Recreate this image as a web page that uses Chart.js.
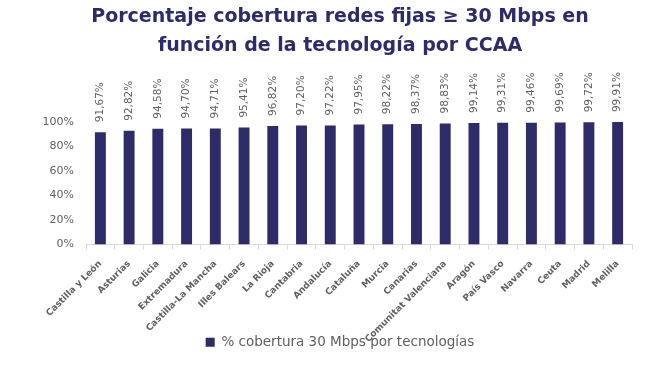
<!DOCTYPE html>
<html><head><meta charset="utf-8">
<script src="https://cdn.jsdelivr.net/npm/chart.js@4/dist/chart.umd.min.js"></script>
<style>html,body{margin:0;padding:0;background:#fff}#wrap{width:664px;height:372px;position:relative}</style>
</head><body><div id="wrap"><canvas id="c" width="664" height="372"></canvas></div>
<script>
const categories = ["Castilla y León","Asturias","Galicia","Extremadura","Castilla-La Mancha","Illes Balears","La Rioja","Cantabria","Andalucía","Cataluña","Murcia","Canarias","Comunitat Valenciana","Aragón","País Vasco","Navarra","Ceuta","Madrid","Melilla"];
const values = [91.67,92.82,94.58,94.70,94.71,95.41,96.82,97.20,97.22,97.95,98.22,98.37,98.83,99.14,99.31,99.46,99.69,99.72,99.91];
const yTicks = [0,20,40,60,80,100];
const seriesName = "% cobertura 30 Mbps por tecnologías";
const titleLines = ["Porcentaje cobertura redes fijas \u2265 30 Mbps en","función de la tecnología por CCAA"];

const NAVY = "#2d2b68";
const GRAY = "#5f5f5f";
const FONT = "'DejaVu Sans'";

const valueLabels = {
  id: 'valueLabels',
  afterDatasetsDraw(chart) {
    const ctx = chart.ctx;
    const meta = chart.getDatasetMeta(0);
    ctx.save();
    ctx.font = "10.5px " + FONT;
    ctx.fillStyle = GRAY;
    ctx.textAlign = "left";
    ctx.textBaseline = "middle";
    meta.data.forEach((bar, i) => {
      ctx.save();
      ctx.translate(bar.x, bar.y - 10);
      ctx.rotate(-Math.PI / 2);
      ctx.fillText(values[i].toFixed(2).replace('.', ',') + '%', 0, 0);
      ctx.restore();
    });
    ctx.restore();
  }
};

new Chart(document.getElementById('c'), {
  type: 'bar',
  data: {
    labels: categories,
    datasets: [{
      label: seriesName,
      data: values,
      yAxisID: 'y',
      backgroundColor: NAVY,
      borderWidth: 0,
      barPercentage: 0.38,
      categoryPercentage: 1
    }]
  },
  options: {
    responsive: false,
    animation: false,
    layout: { padding: { left: 16, right: 0, top: 3, bottom: 13 } },
    plugins: {
      title: {
        display: true,
        text: titleLines,
        color: NAVY,
        font: { family: FONT, size: 19, weight: 'bold', lineHeight: 1.5 },
        padding: { top: 0, bottom: 62 }
      },
      legend: {
        position: 'bottom',
        labels: {
          color: GRAY,
          font: { family: FONT, size: 13.5 },
          boxWidth: 9, boxHeight: 9, padding: 6
        }
      },
      tooltip: { enabled: false }
    },
    scales: {
      y: {
        min: 0, max: 100,
        afterBuildTicks(axis) { axis.ticks = yTicks.map(v => ({ value: v })); },
        afterFit(axis) { axis.width = 70; },
        grid: { display: false, drawTicks: false },
        border: { display: false },
        ticks: {
          color: GRAY,
          font: { family: FONT, size: 11 },
          padding: 12,
          callback: v => v + '%'
        }
      },
      yRight: {
        position: 'right',
        min: 0, max: 100,
        afterFit(axis) { axis.width = 32; },
        grid: { display: false, drawTicks: false },
        border: { display: false },
        ticks: { display: false }
      },
      x: {
        afterFit(axis) { axis.height = 85; axis._computeLabelArea = () => undefined; },
        grid: { display: true, drawOnChartArea: false, drawTicks: true, tickLength: 5, color: '#d9d9d9', offset: true },
        border: { display: true, color: '#d9d9d9' },
        ticks: {
          color: GRAY,
          font: { family: FONT, size: 9, weight: 'bold' },
          maxRotation: 45, minRotation: 45,
          padding: 9,
          autoSkip: false
        }
      }
    }
  },
  plugins: [valueLabels]
});
</script></body></html>
